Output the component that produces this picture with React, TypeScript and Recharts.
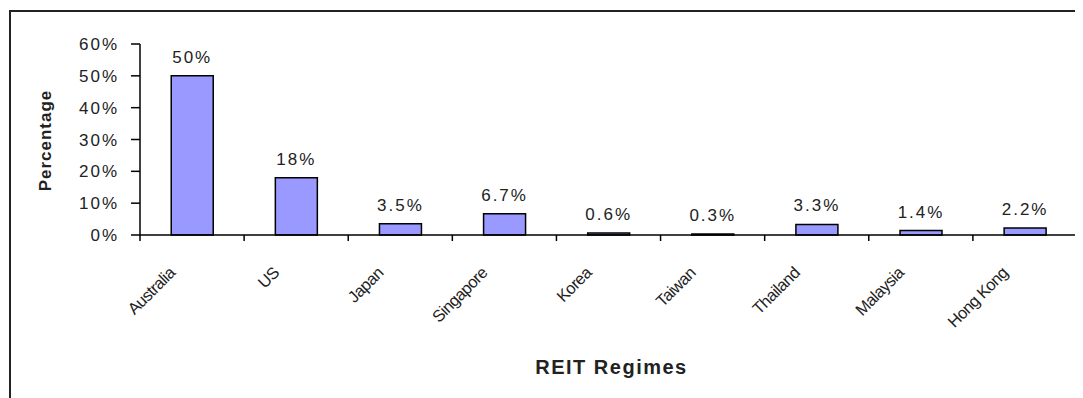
import { Bar, BarChart, LabelList, XAxis, YAxis, Label } from "recharts";

const regimes = ["Australia", "US", "Japan", "Singapore", "Korea", "Taiwan", "Thailand", "Malaysia", "Hong Kong"];
const shares = [50, 18, 3.5, 6.7, 0.6, 0.3, 3.3, 1.4, 2.2];
const yTicks = [0, 10, 20, 30, 40, 50, 60];

const data = regimes.map((name, i) => ({ name, share: shares[i] }));

const W = 1075;
const H = 385;
const margin = { top: 36, right: 6, left: 0, bottom: 8 };
const yAxisWidth = 132;
const xAxisHeight = H - margin.top - margin.bottom - 191;
const band = (W - margin.right - yAxisWidth) / regimes.length;

const font = '"Liberation Sans", Arial, sans-serif';
const ink = "#222";

function RegimeTick(props: any) {
  const { x, y, payload, index } = props;
  const last = index === regimes.length - 1;
  return (
    <g>
      <line x1={x - band / 2} x2={x - band / 2} y1={y} y2={y + 6} stroke="#000" strokeWidth={1.5} />
      {last && <line x1={x + band / 2} x2={x + band / 2} y1={y} y2={y + 6} stroke="#000" strokeWidth={1.5} />}
      <text
        transform={`translate(${x - 16},${y + 39}) rotate(-45)`}
        textAnchor="end"
        fontSize={16.5}
        letterSpacing={-0.6}
        fill={ink}
        fontFamily={font}
      >
        {payload.value}
      </text>
    </g>
  );
}

export default function App() {
  return (
    <div style={{ position: "relative", width: W, height: 390, overflow: "hidden" }}>
      <div
        style={{
          position: "absolute",
          left: 1,
          top: 2,
          right: -10,
          bottom: -10,
          borderLeft: "2px solid #222",
          borderTop: "2px solid #222",
        }}
      />
      <BarChart
        width={W}
        height={H}
        data={data}
        margin={margin}
        barCategoryGap="30%"
        style={{ position: "absolute", left: 0, top: 0 }}
      >
        <XAxis
          dataKey="name"
          height={xAxisHeight}
          axisLine={{ stroke: "#000", strokeWidth: 1.5 }}
          tickLine={false}
          tickSize={0}
          tickMargin={0}
          interval={0}
          tick={<RegimeTick />}
        >
          <Label
            content={({ viewBox }: any) => (
              <text
                x={viewBox.x + viewBox.width / 2 + 3}
                y={viewBox.y + 139}
                textAnchor="middle"
                fontSize={20}
                fontWeight="bold"
                letterSpacing={1.5}
                fill={ink}
                fontFamily={font}
              >
                REIT Regimes
              </text>
            )}
          />
        </XAxis>
        <YAxis
          width={yAxisWidth}
          domain={[0, 60]}
          ticks={yTicks}
          interval={0}
          tickFormatter={(v) => `${v}%`}
          axisLine={{ stroke: "#000", strokeWidth: 1.5 }}
          tickLine={{ stroke: "#000", strokeWidth: 1.5 }}
          tickSize={9}
          tickMargin={12}
          tick={{ fill: ink, fontSize: 17, fontFamily: font, letterSpacing: 2 }}
        >
          <Label
            content={({ viewBox }: any) => {
              const cx = 37;
              const cy = viewBox.y + viewBox.height / 2 + 1;
              return (
                <text
                  x={cx}
                  y={cy}
                  transform={`rotate(-90 ${cx} ${cy})`}
                  textAnchor="middle"
                  dominantBaseline="central"
                  fontSize={17}
                  fontWeight="bold"
                  letterSpacing={1}
                  fill={ink}
                  fontFamily={font}
                >
                  Percentage
                </text>
              );
            }}
          />
        </YAxis>
        <Bar dataKey="share" fill="#9999FF" stroke="#000" strokeWidth={1.5} isAnimationActive={false}>
          <LabelList
            dataKey="share"
            position="top"
            offset={13}
            formatter={(v: any) => `${v}%`}
            style={{ fill: ink, fontSize: 17, fontFamily: font, letterSpacing: 2 }}
          />
        </Bar>
      </BarChart>
    </div>
  );
}
